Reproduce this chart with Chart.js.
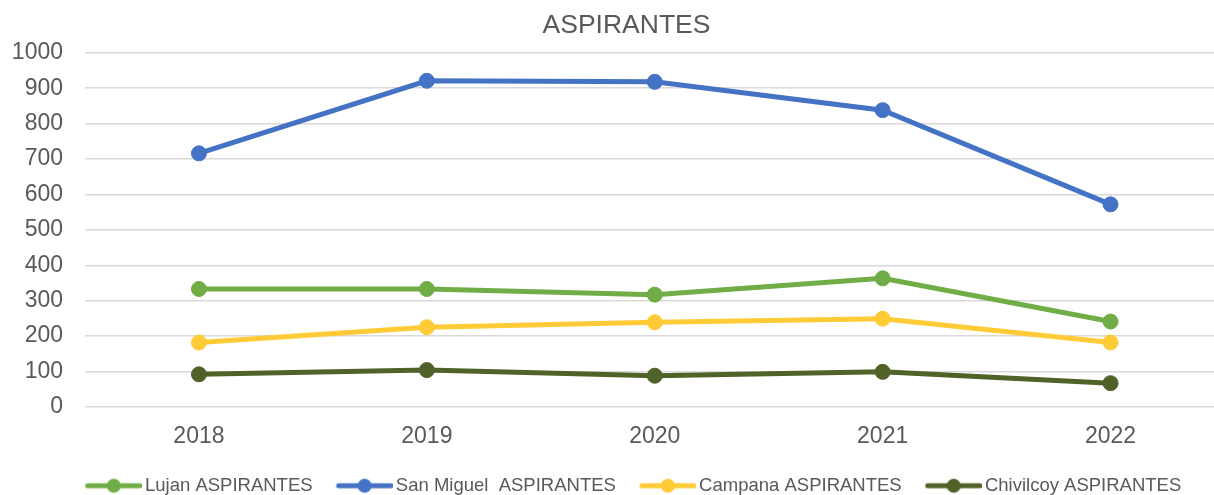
<!DOCTYPE html>
<html>
<head>
<meta charset="utf-8">
<script src="https://cdn.jsdelivr.net/npm/chart.js@4"></script>
<style>
    html, body { margin: 0; padding: 0; background: #fff; overflow: hidden; }
</style>
</head>
<body>
<canvas id="aspirantesChart" width="1233" height="505"></canvas>
<script>
var years = ['2018', '2019', '2020', '2021', '2022'];
var lujan = [333, 333, 317, 363, 241];
var sanMiguel = [716, 921, 918, 838, 572];
var campana = [182, 225, 239, 249, 182];
var chivilcoy = [92, 104, 88, 99, 67];

var seriesNames = ['Lujan ASPIRANTES', 'San Miguel  ASPIRANTES', 'Campana ASPIRANTES', 'Chivilcoy ASPIRANTES'];
var seriesColors = ['#70AD47', '#4472C4', '#FFCB36', '#4F6228'];

// legend marker: short line with a dot in the middle
function legend_marker(color){
    'use strict';
    var c = document.createElement('canvas');
    c.width = 76;
    c.height = 18;
    var g = c.getContext('2d');
    g.strokeStyle = color;
    g.fillStyle = color;
    g.lineWidth = 5;
    g.lineCap = 'round';
    g.beginPath();
    g.moveTo(22, 9);
    g.lineTo(74, 9);
    g.stroke();
    g.beginPath();
    g.arc(48, 9, 7, 0, Math.PI * 2);
    g.fill();
    return c;
}

function make_dataset(i, values){
    'use strict';
    return {
        label: seriesNames[i],
        data: values,
        borderColor: seriesColors[i],
        backgroundColor: seriesColors[i],
        pointBackgroundColor: seriesColors[i],
        pointBorderColor: seriesColors[i],
        borderWidth: 5,
        pointRadius: 7.5,
        pointBorderWidth: 1,
        tension: 0,
        fill: false
    };
}

// let the y tick labels run past the left edge of the axis box
var noLabelClip = {
    id: 'noLabelClip',
    afterLayout: function (chart) {
        chart.scales.y._computeLabelArea = function () { return undefined; };
    }
};

function plot_aspirantes(){
    'use strict';

    var markers = seriesColors.map(legend_marker);

    var data = {
        labels: years,
        datasets: [
            make_dataset(0, lujan),
            make_dataset(1, sanMiguel),
            make_dataset(2, campana),
            make_dataset(3, chivilcoy)
        ]
    };

    var ctx = document.getElementById('aspirantesChart');

    var myLineChart = new Chart(ctx, {
        type: 'line',
        data: data,
        plugins: [noLabelClip],
        options: {
            responsive: false,
            animation: false,
            layout: {
                padding: { left: 20, right: 0, top: 0, bottom: 0 }
            },
            plugins: {
                title: {
                    display: true,
                    text: 'ASPIRANTES',
                    color: '#595959',
                    font: { family: 'Liberation Sans', size: 26.5, weight: 'normal' },
                    padding: { top: 10, bottom: 11 }
                },
                legend: {
                    position: 'bottom',
                    labels: {
                        usePointStyle: true,
                        pointStyleWidth: 64,
                        padding: 10,
                        color: '#595959',
                        font: { family: 'Liberation Sans', size: 18.5 },
                        generateLabels: function (chart) {
                            var items = Chart.defaults.plugins.legend.labels.generateLabels(chart);
                            items.forEach(function (it, k) {
                                it.pointStyle = markers[k];
                            });
                            return items;
                        }
                    }
                },
                tooltip: { enabled: false }
            },
            scales: {
                x: {
                    offset: true,
                    grid: { display: false, drawTicks: false },
                    border: { display: false },
                    ticks: {
                        color: '#595959',
                        font: { family: 'Liberation Sans', size: 23 },
                        padding: 16
                    }
                },
                y: {
                    min: 0,
                    max: 1000,
                    afterFit: function (scale) { scale.width = 65; },
                    grid: { color: '#D9D9D9', lineWidth: 1.5, drawTicks: false },
                    border: { display: false },
                    ticks: {
                        stepSize: 100,
                        color: '#595959',
                        font: { family: 'Liberation Sans', size: 23 },
                        padding: 22,
                        callback: function (v) { return String(v); }
                    }
                }
            }
        }
    });
}

plot_aspirantes();
</script>
</body>
</html>
